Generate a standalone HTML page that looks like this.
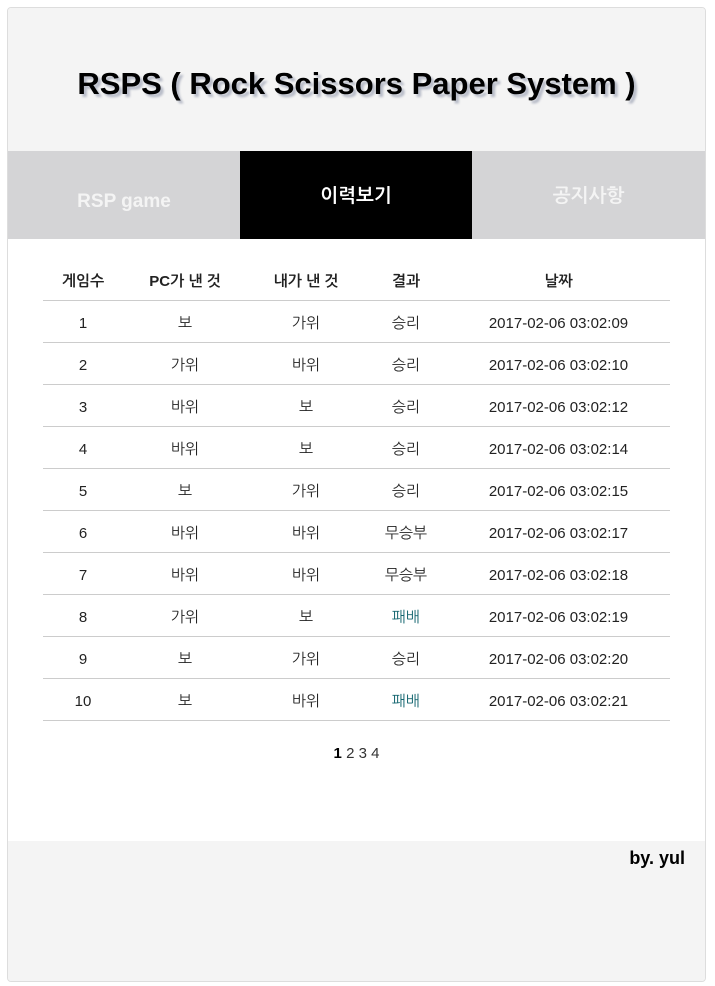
<!DOCTYPE html>
<html><head><meta charset="utf-8"><style>
body{margin:0;width:715px;height:986px;background:#fff;font-family:"Liberation Sans","NanumGothic","Noto Sans CJK KR",sans-serif;position:relative;overflow:hidden}
#box{position:absolute;left:7px;top:7px;width:697px;height:973px;border:1px solid #ddd;border-radius:4px;overflow:hidden;background:#fff}
#hdr{position:absolute;left:0;top:0;width:697px;height:143px;background:#f4f4f4}
#title{position:absolute;left:0;width:697px;top:58px;text-align:center;font-size:31px;font-weight:bold;color:#000;text-shadow:3px 3px 2px #b8bcc8}
.tab{position:absolute;top:143px;height:88px;width:232px;background:#d4d4d6;color:#f4f4f4;font-weight:bold;font-size:19px;text-align:center;box-sizing:border-box}
.tab.on{background:#000;color:#fff}
table{position:absolute;left:35px;top:254px;width:627px;border-collapse:collapse;font-size:15px;color:#222}
th{height:38px;font-weight:bold;font-size:15px;border-bottom:1px solid #ccc;padding:0;vertical-align:middle}
td{height:38px;border-bottom:1px solid #ccc;text-align:center;padding:3px 0 0 0}
.lose{color:#146670}
#pg{position:absolute;left:0;width:697px;top:737px;text-align:center;font-size:15px;color:#333}
#ftr{position:absolute;left:0;top:833px;width:697px;height:140px;background:#f4f4f4}
#by{position:absolute;right:20px;top:7px;font-weight:bold;font-size:18px;color:#000}
</style></head><body>
<div id="box">
<div id="hdr"><div id="title">RSPS ( Rock Scissors Paper System )</div></div>
<div class="tab" style="left:0;padding-top:40px">RSP game</div>
<div class="tab on" style="left:232px;padding-top:35px">이력보기</div>
<div class="tab" style="left:464px;width:233px;padding-top:35px">공지사항</div>
<table>
<colgroup><col style="width:80px"><col style="width:124px"><col style="width:118px"><col style="width:82px"><col style="width:223px"></colgroup>
<tr><th>게임수</th><th>PC가 낸 것</th><th>내가 낸 것</th><th>결과</th><th>날짜</th></tr>
<tr><td>1</td><td>보</td><td>가위</td><td>승리</td><td>2017-02-06 03:02:09</td></tr>
<tr><td>2</td><td>가위</td><td>바위</td><td>승리</td><td>2017-02-06 03:02:10</td></tr>
<tr><td>3</td><td>바위</td><td>보</td><td>승리</td><td>2017-02-06 03:02:12</td></tr>
<tr><td>4</td><td>바위</td><td>보</td><td>승리</td><td>2017-02-06 03:02:14</td></tr>
<tr><td>5</td><td>보</td><td>가위</td><td>승리</td><td>2017-02-06 03:02:15</td></tr>
<tr><td>6</td><td>바위</td><td>바위</td><td>무승부</td><td>2017-02-06 03:02:17</td></tr>
<tr><td>7</td><td>바위</td><td>바위</td><td>무승부</td><td>2017-02-06 03:02:18</td></tr>
<tr><td>8</td><td>가위</td><td>보</td><td class="lose">패배</td><td>2017-02-06 03:02:19</td></tr>
<tr><td>9</td><td>보</td><td>가위</td><td>승리</td><td>2017-02-06 03:02:20</td></tr>
<tr><td>10</td><td>보</td><td>바위</td><td class="lose">패배</td><td>2017-02-06 03:02:21</td></tr>
</table>
<div id="pg"><b style="color:#000">1</b> <span>2</span> <span>3</span> <span>4</span></div>
<div id="ftr"><div id="by">by. yul</div></div>
</div>
</body></html>
